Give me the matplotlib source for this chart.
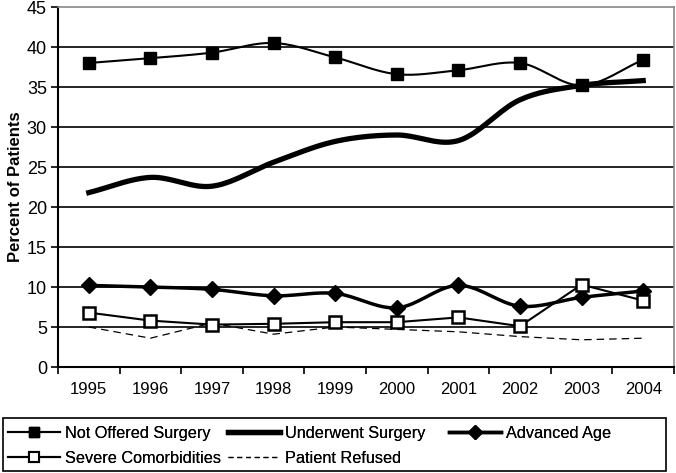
import numpy as np
import matplotlib.pyplot as plt
from matplotlib.lines import Line2D
from matplotlib.patches import Rectangle

plt.rcParams['font.family'] = ['Liberation Sans', 'DejaVu Sans']

years = ['1995', '1996', '1997', '1998', '1999', '2000', '2001', '2002', '2003', '2004']
not_offered = [38.0, 38.6, 39.3, 40.5, 38.7, 36.6, 37.1, 38.0, 35.2, 38.4]
underwent = [21.8, 23.7, 22.6, 25.6, 28.2, 29.0, 28.3, 33.4, 35.2, 35.8]
advanced_age = [10.2, 10.0, 9.7, 8.9, 9.2, 7.4, 10.2, 7.6, 8.7, 9.5]
comorbid = [6.8, 5.8, 5.3, 5.4, 5.6, 5.6, 6.2, 5.1, 10.3, 8.3]
refused = [5.0, 3.6, 5.5, 4.1, 5.0, 4.7, 4.4, 3.8, 3.4, 3.6]


def smooth(x, y, n=20):
    # Catmull-Rom curve through the points, like Excel's smoothed line
    x = np.asarray(x, float)
    y = np.asarray(y, float)
    px = np.concatenate([[2 * x[0] - x[1]], x, [2 * x[-1] - x[-2]]])
    py = np.concatenate([[2 * y[0] - y[1]], y, [2 * y[-1] - y[-2]]])
    t = np.linspace(0, 1, n, endpoint=False)
    xs, ys = [], []
    for i in range(1, len(px) - 2):
        for p, out in ((px, xs), (py, ys)):
            p0, p1, p2, p3 = p[i - 1], p[i], p[i + 1], p[i + 2]
            out.extend(0.5 * (2 * p1 + (-p0 + p2) * t
                              + (2 * p0 - 5 * p1 + 4 * p2 - p3) * t ** 2
                              + (-p0 + 3 * p1 - 3 * p2 + p3) * t ** 3))
    xs.append(x[-1])
    ys.append(y[-1])
    return xs, ys


x = np.arange(len(years))

fig = plt.figure(figsize=(6.76, 4.73), dpi=100)
ax = fig.add_axes([58 / 676, 1 - 367 / 473, 616 / 676, 360 / 473])

for v in range(5, 45, 5):
    ax.axhline(v, color='black', lw=1.2, zorder=1)

ax.plot(*smooth(x, not_offered), color='black', lw=1.5, zorder=3)
ax.plot(x, not_offered, ls='none', marker='s', ms=8, color='black', zorder=4)

ax.plot(*smooth(x, underwent), color='black', lw=3.8, zorder=3)

ax.plot(*smooth(x, advanced_age), color='black', lw=2.5, zorder=3)
ax.plot(x, advanced_age, ls='none', marker='D', ms=8, color='black', zorder=4)

ax.plot(x, comorbid, color='black', lw=1.5, marker='s', ms=8,
        mfc='white', mec='black', mew=1.8, zorder=4)

ax.plot(x, refused, color='black', lw=0.9, ls=(0, (6, 4)), zorder=2)

ax.set_xlim(-0.5, len(years) - 0.5)
ax.set_ylim(0, 45)
ax.set_yticks(range(0, 50, 5))
ax.set_xticks(x)
ax.set_xticklabels(years, fontsize=12)
ax.set_xticks(np.arange(-0.5, len(years), 1), minor=True)
ax.tick_params(axis='x', which='major', length=0, pad=11)
ax.tick_params(axis='x', which='minor', length=5, width=1.2, direction='out')
ax.tick_params(axis='y', length=5, width=1.2, labelsize=13, pad=3)
ax.set_ylabel('Percent of Patients', fontsize=12, fontweight='bold', labelpad=3)

for s in ['left', 'bottom']:
    ax.spines[s].set_linewidth(1.5)
for s in ['top', 'right']:
    ax.spines[s].set_color('#888888')
    ax.spines[s].set_linewidth(1.2)

h_not = Line2D([], [], color='black', lw=1.5, marker='s', ms=7)
h_com = Line2D([], [], color='black', lw=1.5, marker='s', ms=7, mfc='white', mew=1.5)
h_und = Line2D([], [], color='black', lw=3.8)
h_ref = Line2D([], [], color='black', lw=0.9, ls=(0, (4, 3)))
h_age = Line2D([], [], color='black', lw=2.5, marker='D', ms=7)

columns = [
    (8, [h_not, h_com], ['Not Offered Surgery', 'Severe Comorbidities']),
    (228, [h_und, h_ref], ['Underwent Surgery', 'Patient Refused']),
    (449, [h_age], ['Advanced Age']),
]
for left, hs, ls in columns:
    leg = fig.legend(hs, ls, loc='upper left',
                     bbox_to_anchor=(left / 676, 1 - 426 / 473),
                     fontsize=11.7, frameon=False, handlelength=3.2,
                     handletextpad=0.3, borderpad=0, labelspacing=0.6,
                     borderaxespad=0)
    fig.add_artist(leg)

fig.add_artist(Rectangle((3 / 676, 1 - 471 / 473), 663 / 676, 53 / 473,
                         transform=fig.transFigure, fill=False,
                         edgecolor='black', lw=1.2))

fig.savefig('out.png', dpi=100)
